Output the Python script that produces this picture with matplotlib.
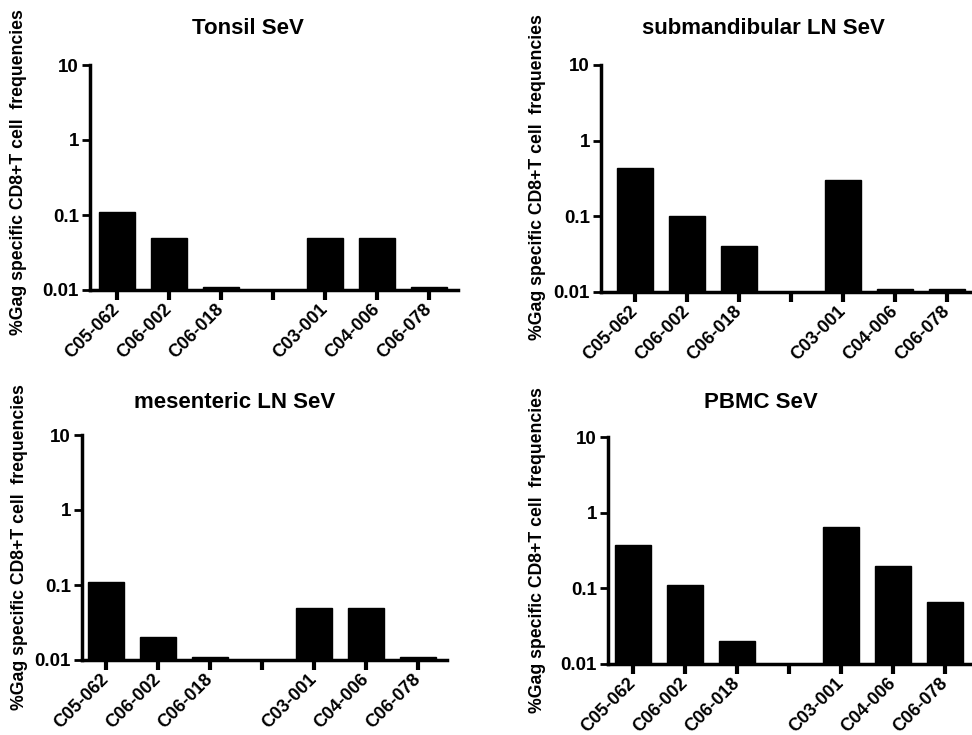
import numpy as np
import matplotlib
matplotlib.use("Agg")
import matplotlib.pyplot as plt

plt.rcParams['font.family'] = ['Liberation Sans', 'DejaVu Sans']
plt.rcParams['font.weight'] = 'bold'

# === Data ===
samples = ["C05-062", "C06-002", "C06-018", "", "C03-001", "C04-006", "C06-078"]
tonsil = [0.11, 0.05, 0.011, np.nan, 0.05, 0.05, 0.011]
submandibular = [0.44, 0.10, 0.04, np.nan, 0.30, 0.011, 0.011]
mesenteric = [0.11, 0.02, 0.011, np.nan, 0.05, 0.05, 0.011]
pbmc = [0.37, 0.11, 0.02, np.nan, 0.65, 0.20, 0.066]
titles = ["Tonsil SeV", "submandibular LN SeV", "mesenteric LN SeV", "PBMC SeV"]
yticks = [0.01, 0.1, 1, 10]
ytick_labels = ["0.01", "0.1", "1", "10"]
ylabel = "%Gag specific CD8+T cell  frequencies"

W, H = 972, 735
fig = plt.figure(figsize=(W / 100, H / 100), dpi=100)
fig.patch.set_facecolor("white")

# panel layout in pixels: axis-left, axis-right, top(10), bottom(0.01), first tick x
panels = [
    (tonsil, 90, 458, 65, 290, 117, (248, 28), (19, 172)),
    (submandibular, 601, 975, 65, 292, 635, (763, 28), (537, 177)),
    (mesenteric, 82, 447, 435, 660, 106, (235, 402), (20, 547)),
    (pbmc, 608, 975, 437, 664, 633, (761, 403), (537, 550)),
]
spacing = 52.0

for (vals, xl, xr, yt, yb, tick0, tpos, lpos), title in zip(panels, titles):
    ax = fig.add_axes([xl / W, 1 - yb / H, (xr - xl) / W, (yb - yt) / H])
    x = np.arange(len(samples))
    ax.bar(x, vals, width=0.7, color="black", edgecolor="black")
    ax.set_yscale("log")
    ax.set_ylim(0.01, 10)
    ax.set_xlim(-(tick0 - xl) / spacing, (xr - tick0) / spacing)
    ax.set_yticks(yticks)
    ax.set_yticklabels(ytick_labels, fontsize=13.5, fontweight="bold")
    ax.yaxis.set_minor_locator(matplotlib.ticker.NullLocator())
    ax.set_xticks(x)
    ax.set_xticklabels(samples, rotation=45, ha="right", va="center",
                       rotation_mode="anchor", fontsize=13, fontweight="bold")
    ax.tick_params(axis="x", length=7, width=3, pad=5)
    ax.tick_params(axis="y", length=6, width=2, pad=2)
    for s in ["top", "right"]:
        ax.spines[s].set_visible(False)
    for s in ["left", "bottom"]:
        ax.spines[s].set_linewidth(2.5)
    ax.set_facecolor("none")

    fig.text(tpos[0] / W, 1 - tpos[1] / H, title, ha="center", va="center",
             fontsize=16, fontweight="bold")
    fig.text(lpos[0] / W, 1 - lpos[1] / H, ylabel, ha="center", va="center",
             rotation=90, fontsize=12.7, fontweight="bold")

fig.savefig("out.png", dpi=100)
